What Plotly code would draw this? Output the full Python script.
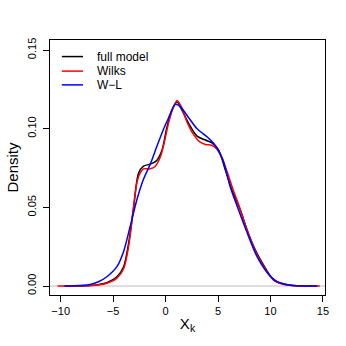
import plotly.graph_objects as go

# Kernel density estimates (x = X_k, y = density)
full_x = [-9.7, -8.0, -7.2, -6.4, -5.6, -4.64, -4.0, -3.53, -3.05, -2.58, -2.1, -1.46,
          -0.82, -0.34, 0.13, 0.61, 1.09, 1.56, 2.2, 3.0, 3.79, 4.43, 5.06, 5.7,
          6.33, 7.13, 7.77, 8.56, 9.35, 10.3, 11.26, 12.2, 13.0, 14.45]
full_y = [0.0, 0.0001, 0.0003, 0.0009, 0.0021, 0.0059, 0.0123, 0.027, 0.050, 0.0716,
          0.0762, 0.0775, 0.080, 0.0864, 0.101, 0.1118, 0.117, 0.1118, 0.1034, 0.0953,
          0.0928, 0.091, 0.0864, 0.0737, 0.061, 0.0483, 0.0356, 0.0229, 0.0133, 0.0038,
          0.0013, 0.0003, 0.0001, 0.0]

wilks_x = [-10.3, -8.5, -7.0, -5.6, -4.64, -4.0, -3.53, -3.05, -2.73, -2.42, -2.1,
           -1.46, -1.0, -0.5, -0.1, 0.3, 0.7, 1.1, 1.5, 2.0, 2.6, 3.2, 3.8, 4.4, 4.9,
           5.4, 5.9, 6.4, 7.0, 7.6, 8.2, 8.8, 9.4, 10.0, 10.6, 11.3, 12.0, 13.0, 14.7]
wilks_y = [0.0, 0.0001, 0.0003, 0.0018, 0.005, 0.011, 0.025, 0.050, 0.066, 0.072,
           0.0745, 0.0745, 0.076, 0.082, 0.092, 0.104, 0.113, 0.118, 0.114, 0.105,
           0.097, 0.092, 0.090, 0.0895, 0.087, 0.081, 0.072, 0.062, 0.051, 0.039,
           0.028, 0.019, 0.012, 0.006, 0.0025, 0.001, 0.0003, 0.0, 0.0]

wl_x = [-9.6, -8.2, -7.18, -6.4, -5.6, -4.64, -4.0, -3.37, -2.73, -2.1, -1.46, -0.82,
        -0.18, 0.29, 0.93, 1.4, 2.2, 3.0, 3.95, 4.6, 5.4, 6.17, 6.96, 7.77, 8.7, 9.7,
        10.6, 11.5, 12.5, 14.45]
wl_y = [0.0, 0.0003, 0.001, 0.0027, 0.0059, 0.0123, 0.022, 0.038, 0.055, 0.068,
        0.0775, 0.089, 0.100, 0.107, 0.1155, 0.114, 0.107, 0.100, 0.0949, 0.0906,
        0.0813, 0.063, 0.0483, 0.034, 0.019, 0.0085, 0.003, 0.001, 0.0002, 0.0]

series = [
    ("full model", full_x, full_y, "black"),
    ("Wilks", wilks_x, wilks_y, "red"),
    ("W\u2212L", wl_x, wl_y, "blue"),
]

x_ticks = [-10, -5, 0, 5, 10, 15]
y_ticks = [0.00, 0.05, 0.10, 0.15]

FONT = "Liberation Sans, Arial, sans-serif"

fig = go.Figure()

# grey baseline drawn by plot.density
fig.add_shape(type="line", xref="paper", yref="y", x0=0, x1=1, y0=0, y1=0,
              line={"color": "#BEBEBE", "width": 1}, layer="below")

for name, xs, ys, color in series:
    fig.add_trace(go.Scatter(
        x=xs, y=ys, name=name, mode="lines", showlegend=False,
        line={"color": color, "width": 1.5, "shape": "spline", "smoothing": 0.8},
    ))

# R-style legend without a box: short line segment then label
legend_rows = [0.935, 0.878, 0.824]
for (name, _, _, color), ly in zip(series, legend_rows):
    fig.add_shape(type="line", xref="paper", yref="paper",
                  x0=0.043, x1=0.12, y0=ly, y1=ly,
                  line={"color": color, "width": 1.5})
    fig.add_annotation(text=name, xref="paper", yref="paper", x=0.162, y=ly,
                       xanchor="left", yanchor="middle", showarrow=False,
                       font={"size": 12})

fig.update_layout(
    width=346, height=346,
    margin={"l": 50, "r": 21, "t": 40, "b": 51},
    paper_bgcolor="white", plot_bgcolor="white",
    font={"family": FONT, "color": "black", "size": 11},
    showlegend=False,
    xaxis={
        "range": [-11.02, 15.2], "tickvals": x_ticks,
        "ticktext": ["\u221210", "\u22125", "0", "5", "10", "15"],
        "ticks": "outside", "ticklen": 6, "tickcolor": "black",
        "showline": True, "linecolor": "black", "linewidth": 1, "mirror": True,
        "showgrid": False, "zeroline": False, "automargin": False,
        "ticklabelstandoff": 0,
        "title": {"text": "X<sub>k</sub>", "font": {"size": 15}, "standoff": 2},
    },
    yaxis={
        "range": [-0.0057, 0.1564], "tickvals": y_ticks,
        "ticktext": ["0.00", "0.05", "0.10", "0.15"], "tickangle": -90,
        "ticks": "outside", "ticklen": 6, "tickcolor": "black",
        "showline": True, "linecolor": "black", "linewidth": 1, "mirror": True,
        "showgrid": False, "zeroline": False, "automargin": False,
        "ticklabelstandoff": 3,
        "title": {"text": "Density", "font": {"size": 15}, "standoff": 3},
    },
)

# drop the browser's default body margin so the figure sits at the page origin
fig.write_html("out.html", config={"displayModeBar": False},
               post_script="document.body.style.margin = '0';")
